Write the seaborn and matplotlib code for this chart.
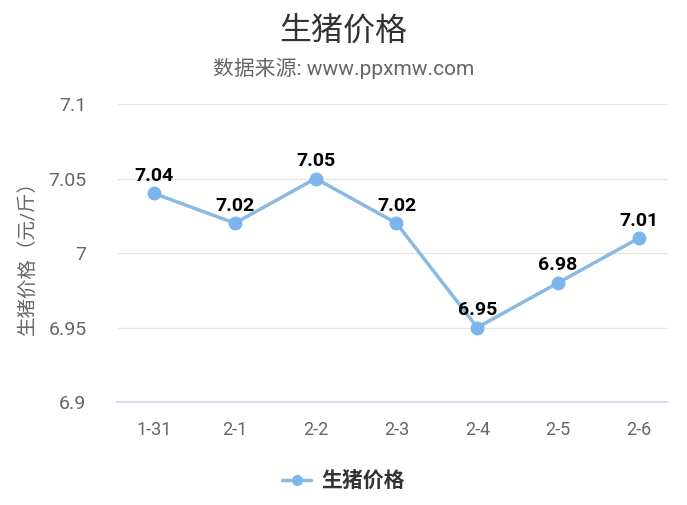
import matplotlib
matplotlib.use("Agg")
import matplotlib.pyplot as plt
import seaborn as sns
import pandas as pd

dates = ["1-31", "2-1", "2-2", "2-3", "2-4", "2-5", "2-6"]
prices = [7.04, 7.02, 7.05, 7.02, 6.95, 6.98, 7.01]
y_ticks = [6.9, 6.95, 7.0, 7.05, 7.1]
y_tick_labels = ["6.9", "6.95", "7", "7.05", "7.1"]
series_name = "生猪价格"

sns.set_theme(style="white")
plt.rcParams['font.family'] = ['Roboto', 'Noto Sans CJK SC', 'DejaVu Sans']

df = pd.DataFrame({"date": dates, "price": prices, "series": series_name})

fig = plt.figure(figsize=(6.87, 5.05), dpi=100)
ax = fig.add_axes([117 / 687, 1 - 402 / 505, (668 - 117) / 687, (402 - 104) / 505])

color = "#7cb5ec"
sns.lineplot(data=df, x="date", y="price", hue="series", palette=[color],
             marker="o", markersize=10, markeredgewidth=0, linewidth=2.5,
             ax=ax, sort=False)
for ln in ax.lines:
    ln.set_color("#8ab9e2")
    ln.set_markerfacecolor(color)

# data labels
for i, v in enumerate(prices):
    ax.annotate(f"{v:.2f}", (i, v), xytext=(0, 6), textcoords="offset points",
                ha="center", va="bottom", fontsize=14, fontweight="bold",
                color="#000000")

ax.set_ylim(6.9, 7.1)
ax.set_yticks(y_ticks)
ax.set_yticklabels(y_tick_labels)
ax.set_xlim(-0.458, 6.36)
ax.grid(axis="y", color="#e6e6e6", linewidth=1)
ax.grid(axis="x", visible=False)
for s in ["top", "right", "left"]:
    ax.spines[s].set_visible(False)
ax.spines["bottom"].set_color("#ccd6eb")
ax.spines["bottom"].set_linewidth(1.2)
ax.tick_params(axis="x", length=0, labelsize=13, colors="#666666", pad=14)
ax.tick_params(axis="y", length=0, labelsize=14, colors="#666666", pad=22)
ax.set_xlabel("")
ax.set_ylabel("生猪价格（元/斤）", fontsize=14, color="#666666", labelpad=8)

fig.text(0.5, 1 - 30 / 505, "生猪价格", ha="center", va="center",
         fontsize=23, color="#333333")
fig.text(0.5, 1 - 68 / 505, "数据来源: www.ppxmw.com", ha="center", va="center",
         fontsize=15, color="#666666")

leg = ax.legend(loc="center", bbox_to_anchor=(0.5, 1 - 481 / 505),
                bbox_transform=fig.transFigure, frameon=False,
                prop={"size": 15, "weight": "bold"}, handlelength=1.4,
                handletextpad=0.5, markerscale=0.8)
for t in leg.get_texts():
    t.set_color("#333333")

fig.savefig("out.png", dpi=100)
